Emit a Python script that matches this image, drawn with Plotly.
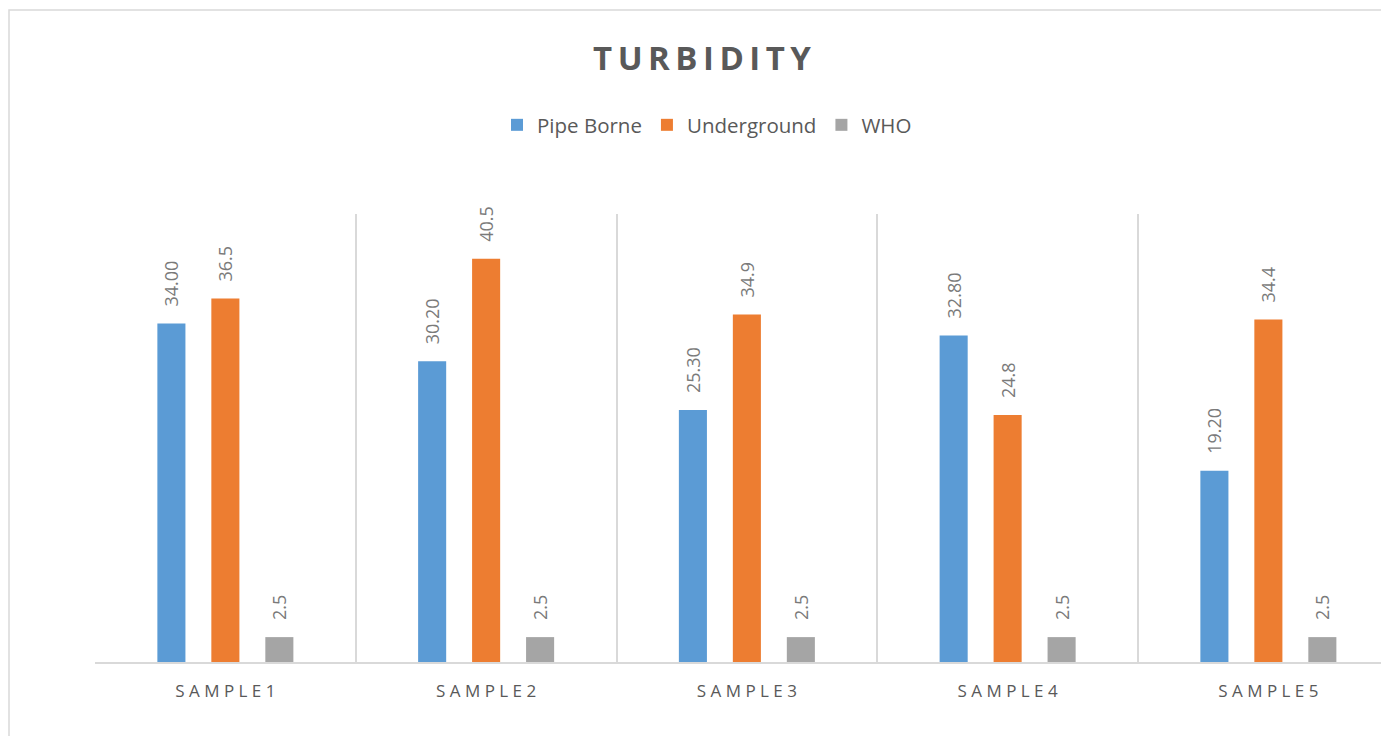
import plotly.graph_objects as go

categories = ["SAMPLE1", "SAMPLE2", "SAMPLE3", "SAMPLE4", "SAMPLE5"]
tick_labels = ["S A M P L E 1", "S A M P L E 2", "S A M P L E 3", "S A M P L E 4", "S A M P L E 5"]
pipe_borne = [34.00, 30.20, 25.30, 32.80, 19.20]
underground = [36.5, 40.5, 34.9, 24.8, 34.4]
who = [2.5, 2.5, 2.5, 2.5, 2.5]

# page body has an 8px margin; figure coordinates are page coordinates minus 8
OFF = 8
W, H = 1389 - OFF, 736 - OFF
L, T = 95 - OFF, 214 - OFF
BASE = 662 - OFF
B = H - BASE
cat_w = 260.75
NB = "\u00a0"

label_font = dict(family="Open Sans", size=18, color="#7a7a7a")

fig = go.Figure()
for name, vals, color, fmt in [
    ("Pipe Borne", pipe_borne, "#5B9BD5", "%{y:.2f}"),
    ("Underground", underground, "#ED7D31", "%{y:.1f}"),
    ("WHO", who, "#A5A5A5", "%{y:.1f}"),
]:
    fig.add_trace(go.Bar(
        name=name, x=categories, y=vals,
        marker=dict(color=color, line=dict(width=0)),
        texttemplate=NB * 3 + fmt, textposition="outside", textangle=-90,
        textfont=label_font, constraintext="none", cliponaxis=False,
    ))

fig.update_layout(
    width=W, height=H,
    margin=dict(l=L, r=0, t=T, b=B, pad=0),
    paper_bgcolor="white", plot_bgcolor="white",
    barmode="group", bargap=0.379, bargroupgap=0.48,
    title=dict(text="T\u2009U\u2009R\u2009B\u2009I\u2009D\u2009I\u2009T\u2009Y",
               x=(702 - OFF) / W, xref="container", xanchor="center",
               y=1 - (58 - OFF) / H, yref="container", yanchor="middle",
               font=dict(family="Open Sans", size=33, color="#595959", weight="bold")),
    legend=dict(orientation="h", x=(707 - OFF - L) / (W - L), xanchor="center",
                y=(BASE - (125 - OFF)) / (BASE - T), yanchor="middle",
                font=dict(family="Open Sans", size=20.5, color="#595959"),
                itemwidth=30, tracegroupgap=0),
    showlegend=True,
)
fig.update_xaxes(
    type="category", range=[-0.5, -0.5 + (W - L) / cat_w],
    tickvals=categories, ticktext=tick_labels, tickson="boundaries",
    ticks="", showgrid=True, gridcolor="#d9d9d9", gridwidth=1.5,
    showline=True, linecolor="#d9d9d9", linewidth=1.5,
    tickfont=dict(family="Open Sans", size=17, color="#595959"),
    ticklabelstandoff=13, zeroline=False, fixedrange=True,
)
fig.update_yaxes(range=[0, 45], showgrid=False, showticklabels=False,
                 zeroline=False, showline=False, ticks="")
fig.add_shape(type="rect", xref="paper", yref="paper",
              x0=(9 - OFF - L) / (W - L), x1=1.2,
              y0=-0.5, y1=(BASE - (10 - OFF)) / (BASE - T),
              line=dict(color="#d9d9d9", width=1.5), layer="below")

fig.write_html("out.html")
